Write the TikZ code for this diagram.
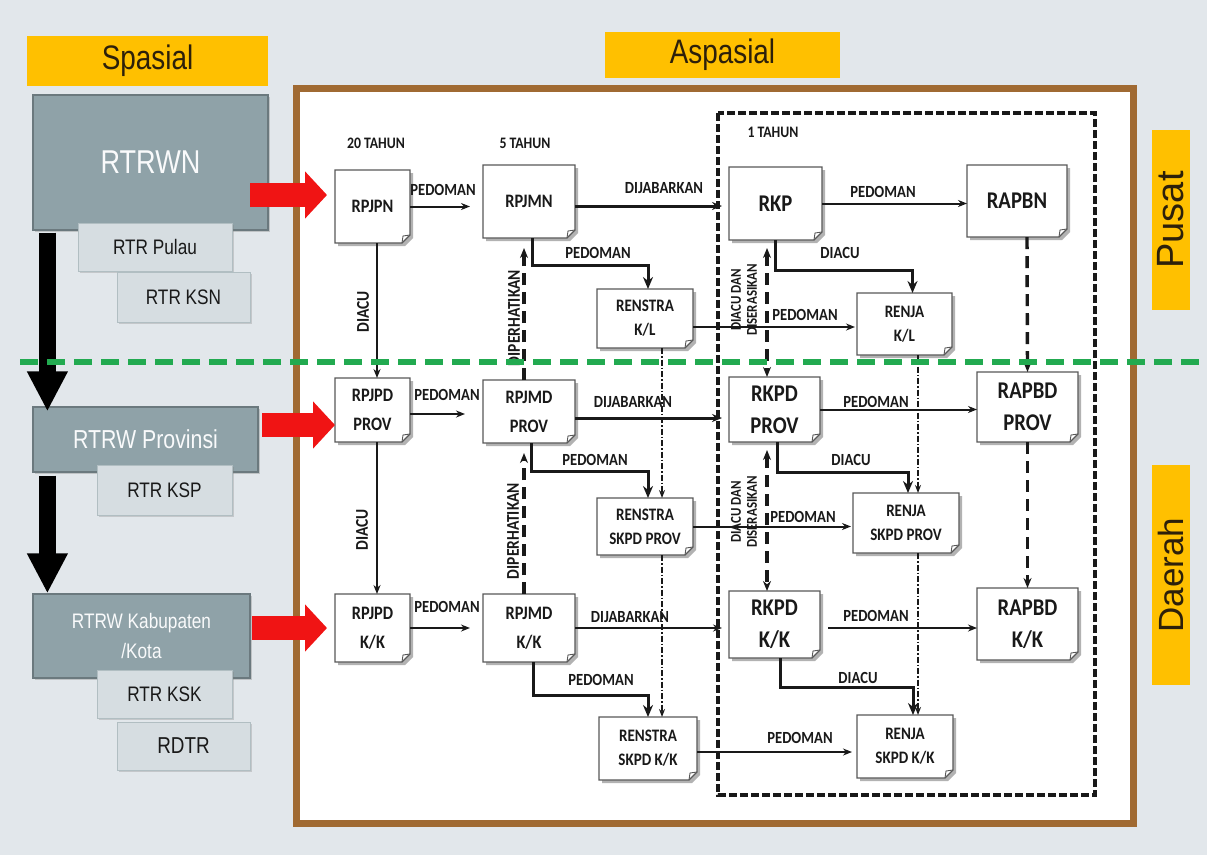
\documentclass[tikz,border=0pt]{standalone}
\usepackage{fontspec}
\setmainfont{Carlito}[FakeStretch=0.86]
\newfontfamily\cond[FakeStretch=0.82]{Liberation Sans}
\newfontfamily\arial{Liberation Sans}
\usetikzlibrary{arrows.meta,calc,shadows}
\definecolor{bgc}{RGB}{226,231,235}
\definecolor{ylw}{RGB}{255,192,0}
\definecolor{ylwtxt}{RGB}{45,32,10}
\definecolor{brn}{RGB}{160,106,50}
\definecolor{slate}{RGB}{143,162,168}
\definecolor{lslate}{RGB}{214,221,225}
\definecolor{grn}{RGB}{34,170,80}
\definecolor{redarr}{RGB}{240,20,20}
\definecolor{ink}{RGB}{25,25,25}
\tikzset{
  ylab/.style={fill=ylw, inner sep=0pt, font=\cond\fontsize{34}{38}\selectfont, text=ylwtxt},
  darkbox/.style={fill=slate, draw=slate!75!black, line width=1.2pt, inner sep=0pt, text=white!95!slate,
    drop shadow={opacity=0.35, shadow xshift=2pt, shadow yshift=-2pt}},
  lightbox/.style={fill=lslate, draw=slate!70, line width=1pt, inner sep=0pt, text=ink,
    font=\cond\fontsize{21}{24}\selectfont, drop shadow={opacity=0.3, shadow xshift=2pt, shadow yshift=-2pt}},
  conn/.style={line width=2pt, ink, -{Stealth[length=9pt,width=7pt]}},
  thickconn/.style={line width=3pt, ink, -{Stealth[length=10pt,width=8pt]}},
  elbow/.style={line width=3pt, ink, -{Stealth[length=12pt,width=10pt]}},
  dthick/.style={line width=3.4pt, ink, dash pattern=on 12pt off 7pt},
  dthin/.style={line width=1.3pt, ink, dash pattern=on 6pt off 2pt on 1.5pt off 2pt, -{Stealth[length=8pt,width=6pt]}},
  lbl/.style={font=\bfseries\fontsize{17}{19}\selectfont, text=ink, inner sep=0pt},
  rotlbl/.style={font=\bfseries\fontsize{18}{20}\selectfont, text=ink, inner sep=0pt, rotate=90},
  rlbl/.style={font=\bfseries\fontsize{15}{16}\selectfont, text=ink, inner sep=0pt, align=center, rotate=90},
  yrlbl/.style={font=\bfseries\fontsize{16}{18}\selectfont, text=ink, inner sep=0pt},
  redarrow/.style={redarr, line width=24pt, -{Triangle[length=22pt,width=46pt]}},
  blackarrow/.style={black, line width=17pt, -{Triangle[length=40pt,width=38pt]}},
}
% name, x1, y1, x2, y2, size, baselineskip, text
\newcommand\docbox[8]{%
  \fill[black!30] ({#2+3},{#3+3}) -- ({#4+3},{#3+3}) -- ({#4+3},{#5-5}) -- ({#4-5},{#5+3}) -- ({#2+3},{#5+3}) -- cycle;
  \filldraw[draw=black!65, fill=white, line width=1.3pt] (#2,#3) -- (#4,#3) -- (#4,{#5-8}) -- ({#4-8},#5) -- (#2,#5) -- cycle;
  \draw[black!65, line width=0.9pt] (#4,{#5-8}) -- ({#4-7},{#5-7}) -- ({#4-8},#5);
  \node[inner sep=0pt, outer sep=0pt, minimum width={#4-#2}, minimum height={#5-#3}, align=center,
    font=\bfseries\fontsize{#6}{#7}\selectfont, text=ink] (#1) at ({(#2+#4)/2},{(#3+#5)/2}) {#8};
}
\begin{document}
\begin{tikzpicture}[x=1pt,y=-1pt]
\useasboundingbox (0,0) rectangle (1207,855);
\fill[bgc] (0,0) rectangle (1207,855);
% frame
\draw[brn, line width=7pt, fill=white] (296,88) rectangle (1133,823);
\draw[ink, line width=3.2pt, dash pattern=on 8pt off 3pt] (718,113) rectangle (1095,795);
% header labels
\node[ylab, minimum width=241, minimum height=50] (spasial) at (147.5,61) {Spasial};
\node[ylab, minimum width=235, minimum height=46] (aspasial) at (722.5,55) {Aspasial};
\node[ylab, rotate=90, minimum width=180, minimum height=38, font=\arial\fontsize{38}{40}\selectfont] (pusat) at (1171,220) {Pusat};
\node[ylab, rotate=90, minimum width=220, minimum height=38, font=\arial\fontsize{35}{40}\selectfont] (daerah) at (1171,575) {Daerah};
% left boxes
\node[darkbox, minimum width=235, minimum height=135, font=\cond\fontsize{33}{38}\selectfont] (rtrwn) at (150.5,162.5) {RTRWN};
\node[lightbox, minimum width=154, minimum height=48] (rtrpulau) at (155,247) {RTR Pulau};
\node[lightbox, minimum width=133, minimum height=50] (rtrksn) at (183.5,297) {RTR KSN};
\node[darkbox, minimum width=225, minimum height=65, font=\cond\fontsize{26}{30}\selectfont] (prov) at (145.5,439.5) {RTRW Provinsi};
\node[lightbox, minimum width=135, minimum height=50] (rtrksp) at (164.5,490) {RTR KSP};
\node[darkbox, minimum width=217, minimum height=84, align=center, font=\cond\fontsize{21}{30}\selectfont] (kab) at (141.5,636) {RTRW Kabupaten\\/Kota};
\node[lightbox, minimum width=135, minimum height=48] (rtrksk) at (164.5,694) {RTR KSK};
\node[lightbox, minimum width=133, minimum height=48, font=\cond\fontsize{23}{26}\selectfont] (rdtr) at (183.5,746) {RDTR};
% year labels
\node[yrlbl] (y20) at (376,143) {20 TAHUN};
\node[yrlbl] (y5) at (525,143) {5 TAHUN};
\node[yrlbl] (y1) at (773,132) {1 TAHUN};
% document boxes
\docbox{rpjpn}{335}{170}{410}{243}{19}{23}{RPJPN}
\docbox{rpjmn}{483}{165}{575}{238}{19}{23}{RPJMN}
\docbox{rkp}{729}{167}{822}{240}{24}{28}{RKP}
\docbox{rapbn}{967}{165}{1067}{237}{24}{28}{RAPBN}
\docbox{renstrakl}{597}{289}{693}{348}{17.5}{24}{RENSTRA\\K/L}
\docbox{renjakl}{857}{293}{952}{355}{17.5}{24}{RENJA\\K/L}
\docbox{rpjpdprov}{335}{378}{410}{442}{19}{29}{RPJPD\\PROV}
\docbox{rpjmdprov}{483}{380}{575}{443}{19}{29}{RPJMD\\PROV}
\docbox{rkpdprov}{729}{377}{820}{442}{24}{32}{RKPD\\PROV}
\docbox{rapbdprov}{977}{372}{1078}{442}{24}{32}{RAPBD\\PROV}
\docbox{renstraprov}{597}{498}{693}{555}{17.5}{24}{RENSTRA\\SKPD PROV}
\docbox{renjaprov}{853}{493}{959}{553}{17.5}{24}{RENJA\\SKPD PROV}
\docbox{rpjpdkk}{335}{594}{410}{662}{19}{29}{RPJPD\\K/K}
\docbox{rpjmdkk}{483}{594}{575}{662}{19}{29}{RPJMD\\K/K}
\docbox{rkpdkk}{729}{591}{820}{658}{24}{32}{RKPD\\K/K}
\docbox{rapbdkk}{977}{588}{1078}{660}{24}{32}{RAPBD\\K/K}
\docbox{renstrakk}{599}{717}{697}{780}{17.5}{24}{RENSTRA\\SKPD K/K}
\docbox{renjakk}{857}{715}{953}{778}{17.5}{24}{RENJA\\SKPD K/K}
% ---- row 1 connectors
\draw[conn, shorten >=13pt] (rpjpn.east) -- (rpjpn.east -| rpjmn.west);
\coordinate (d1) at ([yshift=-4.5pt]rpjmn.east);
\draw[thickconn, shorten >=7pt] (d1) -- (d1 -| rkp.west);
\draw[conn] (rkp.east) -- (rkp.east -| rapbn.west);
\draw[elbow] ([xshift=3pt]rpjmn.south) -- ++(0,27) -| ([xshift=3pt]renstrakl.north);
\draw[elbow] (rkp.south) -- ++(0,30) -| ([xshift=8pt]renjakl.north);
\coordinate (d2) at ([yshift=-8.5pt]renstrakl.east);
\draw[conn, shorten >=2pt] (d2) -- (d2 -| renjakl.west);
\draw[conn] ([xshift=4.5pt]rpjpn.south) -- ([xshift=4.5pt]rpjpdprov.north);
\draw[dthick, -{Stealth[length=10pt,width=8pt]}, shorten >=10pt] ([xshift=-5pt]rpjmdprov.north) -- ([xshift=-5pt]rpjmn.south);
\draw[dthick, {Stealth[length=10pt,width=8pt]}-{Stealth[length=10pt,width=8pt]}, shorten <=8pt] ([xshift=-8.5pt]rkp.south) -- ([xshift=-7.5pt]rkpdprov.north);
\draw[dthin] ([xshift=17pt]renstrakl.south) -- ([xshift=17pt]renstraprov.north);
\draw[dthin] ([xshift=13.5pt]renjakl.south) -- ([xshift=12pt]renjaprov.north);
\draw[dthick, -{Stealth[length=10pt,width=8pt]}] ([xshift=10pt]rapbn.south) -- (rapbdprov.north);
% ---- row 2 connectors
\coordinate (d3) at ([yshift=-4pt]rpjpdprov.east);
\draw[conn, shorten >=18pt] (d3) -- (d3 -| rpjmdprov.west);
\coordinate (d4) at ([yshift=-6.5pt]rpjmdprov.east);
\draw[thickconn, shorten >=7pt] (d4) -- (d4 -| rkpdprov.west);
\draw[conn] (rkpdprov.east) -- (rkpdprov.east -| rapbdprov.west);
\draw[elbow] ([xshift=2pt]rpjmdprov.south) -- ++(0,28) -| ([xshift=3pt]renstraprov.north);
\draw[elbow] ([xshift=2.5pt]rkpdprov.south) -- ++(0,30) -| ([xshift=2pt]renjaprov.north);
\draw[conn, shorten >=2pt] (renstraprov.east) -- (renstraprov.east -| renjaprov.west);
\draw[conn] ([xshift=4.5pt]rpjpdprov.south) -- ([xshift=4.5pt]rpjpdkk.north);
\draw[dthick, -{Stealth[length=10pt,width=8pt]}, shorten >=10pt] ([xshift=-5pt]rpjmdkk.north) -- ([xshift=-5pt]rpjmdprov.south);
\draw[dthick, {Stealth[length=10pt,width=8pt]}-{Stealth[length=10pt,width=8pt]}, shorten <=8pt] ([xshift=-7.5pt]rkpdprov.south) -- ([xshift=-7.5pt]rkpdkk.north);
\draw[dthin] ([xshift=17pt]renstraprov.south) -- ([xshift=14pt]renstrakk.north);
\draw[dthin] ([xshift=12pt]renjaprov.south) -- ([xshift=13pt]renjakk.north);
\draw[dthick, -{Stealth[length=10pt,width=8pt]}] (rapbdprov.south) -- (rapbdkk.north);
% ---- row 3 connectors
\draw[conn, shorten >=13pt] (rpjpdkk.east) -- (rpjpdkk.east -| rpjmdkk.west);
\draw[conn, shorten >=7pt] (rpjmdkk.east) -- (rpjmdkk.east -| rkpdkk.west);
\coordinate (d5) at ([yshift=-3.5pt]rkpdkk.east);
\draw[conn, shorten <=8pt] (d5) -- (d5 -| rapbdkk.west);
\draw[elbow] ([xshift=4pt]rpjmdkk.south) -- ++(0,33) -| (renstrakk.north);
\draw[elbow] ([xshift=5.5pt]rkpdkk.south) -- ++(0,29) -| ([xshift=8pt]renjakk.north);
\coordinate (d6) at ([yshift=-3.5pt]renstrakk.east);
\draw[conn, shorten >=5pt] (d6) -- (d6 -| renjakk.west);
% ---- labels
\node[lbl] (l1) at (443,190) {PEDOMAN};
\node[lbl] (l2) at (664,188) {DIJABARKAN};
\node[lbl] (l3) at (883,192) {PEDOMAN};
\node[lbl] (l4) at (598,253) {PEDOMAN};
\node[lbl] (l5) at (840,253) {DIACU};
\node[lbl] (l6) at (805,315) {PEDOMAN};
\node[rotlbl] (l7) at (363,312) {DIACU};
\node[rotlbl] (l8) at (514,318) {DIPERHATIKAN};
\node[rlbl] (l9) at (744,300) {DIACU DAN\\DISERASIKAN};
\node[lbl] (l10) at (447,395) {PEDOMAN};
\node[lbl] (l11) at (633,402) {DIJABARKAN};
\node[lbl] (l12) at (876,402) {PEDOMAN};
\node[lbl] (l13) at (595,460) {PEDOMAN};
\node[lbl] (l14) at (851,460) {DIACU};
\node[lbl] (l15) at (803,517) {PEDOMAN};
\node[rotlbl] (l16) at (362,530) {DIACU};
\node[rotlbl] (l17) at (513,531) {DIPERHATIKAN};
\node[rlbl] (l18) at (744,512) {DIACU DAN\\DISERASIKAN};
\node[lbl] (l19) at (447,607) {PEDOMAN};
\node[lbl] (l20) at (630,617) {DIJABARKAN};
\node[lbl] (l21) at (876,616) {PEDOMAN};
\node[lbl] (l22) at (601,680) {PEDOMAN};
\node[lbl] (l23) at (858,678) {DIACU};
\node[lbl] (l24) at (800,738) {PEDOMAN};
% ---- red arrows
\coordinate (ra1) at (250,195);
\coordinate (ra2) at (262,425);
\coordinate (ra3) at (252,628);
\draw[redarrow, shorten >=8pt] (ra1) -- (ra1 -| rpjpn.west);
\draw[redarrow] (ra2) -- (ra2 -| rpjpdprov.west);
\draw[redarrow, shorten >=8pt] (ra3) -- (ra3 -| rpjpdkk.west);
% ---- black arrows
\draw[blackarrow] ($(rtrwn.south west)+(15,2)$) -- ($(prov.north west)+(15,5)$);
\draw[blackarrow] ($(prov.south west)+(15,3)$) -- ($(kab.north west)+(15,0)$);
% ---- green divider
\coordinate (g1) at (20,362);
\coordinate (g2) at (1207,362);
\draw[grn, line width=6pt, dash pattern=on 18pt off 9pt] (g1) -- (g2);
\end{tikzpicture}
\end{document}
